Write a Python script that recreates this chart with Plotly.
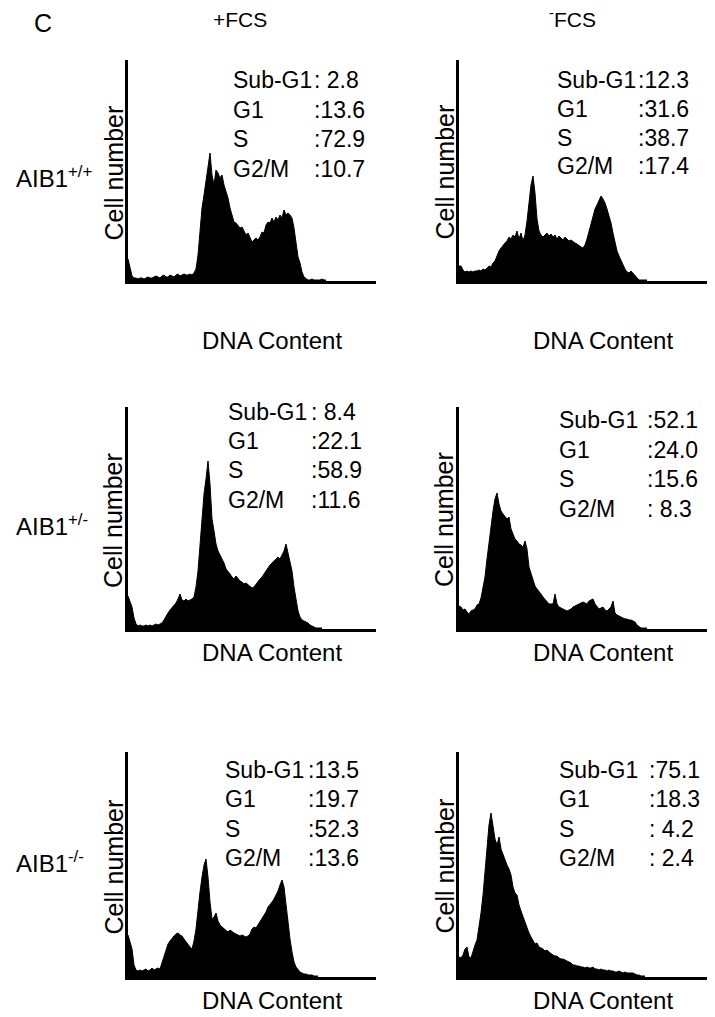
import plotly.graph_objects as go

W, H = 715, 1017
BIN = 2  # channels per histogram bin

# ---------------- data ----------------
CONDITIONS = ["+FCS", "-FCS"]
GENOTYPES = ["+/+", "+/-", "-/-"]
PHASES = ["Sub-G1", "G1", "S", "G2/M"]

# phase percentages
STATS_WT_PLUS = [2.8, 13.6, 72.9, 10.7]
STATS_WT_MINUS = [12.3, 31.6, 38.7, 17.4]
STATS_HET_PLUS = [8.4, 22.1, 58.9, 11.6]
STATS_HET_MINUS = [52.1, 24.0, 15.6, 8.3]
STATS_KO_PLUS = [13.5, 19.7, 52.3, 13.6]
STATS_KO_MINUS = [75.1, 18.3, 4.2, 2.4]

# DNA-content histograms (cell number per 2-channel bin, arbitrary units)
HIST_WT_PLUS = [22, 12, 5, 3, 3, 2, 3, 3, 2, 3, 4, 3, 3, 4, 5, 4, 3, 5, 6, 4, 4, 6, 5, 4, 6, 7, 5, 6, 7, 6,
                6, 7, 6, 8, 12, 26, 53, 73, 86, 99, 116, 128, 106, 96, 111, 108, 103, 106, 96, 89, 83, 73,
                66, 59, 58, 56, 53, 54, 49, 46, 48, 43, 39, 41, 43, 41, 44, 49, 48, 56, 59, 58, 63, 59, 64,
                61, 66, 63, 71, 66, 68, 66, 63, 53, 36, 24, 18, 9, 4, 2, 1, 1, 2, 1, 1, 1, 1, 2, 1, 1]
HIST_WT_MINUS = [15, 15, 11, 9, 10, 9, 10, 9, 10, 10, 11, 10, 12, 11, 13, 15, 14, 18, 20, 26, 30, 33, 36, 38,
                 40, 44, 42, 46, 44, 50, 42, 48, 40, 46, 60, 80, 96, 105, 88, 62, 50, 46, 44, 46, 48, 45, 47,
                 44, 46, 42, 45, 43, 41, 44, 42, 40, 41, 39, 38, 37, 35, 34, 33, 36, 42, 50, 58, 66, 72, 76,
                 80, 85, 82, 78, 72, 66, 58, 48, 38, 30, 25, 20, 16, 12, 9, 8, 10, 8, 6, 3, 1, 1, 1, 1, 1]
HIST_HET_PLUS = [33, 28, 22, 11, 5, 3, 4, 3, 3, 4, 3, 4, 3, 4, 5, 4, 5, 6, 9, 13, 16, 19, 21, 24, 26, 30, 35,
                 29, 28, 30, 28, 29, 30, 32, 42, 58, 85, 112, 135, 150, 168, 145, 110, 98, 85, 78, 74, 70, 66,
                 60, 58, 55, 52, 50, 53, 50, 48, 47, 45, 46, 44, 43, 41, 42, 45, 47, 50, 52, 55, 58, 62, 64,
                 66, 68, 70, 72, 70, 74, 78, 85, 75, 68, 58, 42, 28, 18, 12, 9, 8, 7, 6, 4, 3, 2, 1, 1, 1, 1]
HIST_HET_MINUS = [23, 22, 19, 20, 17, 15, 18, 19, 20, 24, 25, 31, 40, 52, 70, 88, 105, 118, 130, 136, 125, 118,
                  115, 112, 110, 112, 100, 95, 90, 88, 85, 84, 82, 88, 80, 62, 55, 48, 43, 40, 38, 35, 32, 30,
                  28, 25, 25, 25, 35, 25, 22, 21, 20, 19, 18, 19, 20, 22, 23, 24, 25, 26, 27, 26, 25, 28, 29,
                  30, 25, 23, 20, 21, 22, 19, 18, 20, 22, 28, 16, 14, 13, 12, 11, 10, 10, 9, 9, 8, 7, 4, 2, 1,
                  1, 1, 1]
HIST_KO_PLUS = [42, 36, 28, 12, 7, 6, 7, 6, 7, 8, 6, 7, 9, 7, 8, 9, 8, 14, 22, 28, 33, 36, 39, 41, 43, 44, 42,
                41, 38, 35, 32, 30, 28, 36, 48, 68, 85, 100, 112, 118, 100, 75, 58, 60, 64, 56, 52, 50, 48,
                46, 45, 47, 45, 44, 43, 42, 41, 42, 41, 40, 41, 43, 48, 50, 49, 52, 55, 58, 62, 65, 70, 72,
                75, 78, 82, 86, 92, 97, 90, 72, 55, 38, 25, 15, 10, 7, 5, 4, 3, 3, 2, 2, 2, 1, 1, 1]
HIST_KO_MINUS = [20, 19, 22, 28, 30, 20, 19, 26, 32, 37, 50, 64, 82, 108, 128, 152, 164, 148, 138, 132, 140,
                 128, 122, 118, 112, 108, 102, 90, 84, 82, 72, 66, 60, 54, 50, 44, 40, 36, 33, 34, 30, 29, 28,
                 26, 27, 25, 23, 22, 21, 21, 19, 18, 18, 17, 16, 15, 14, 12, 12, 11, 11, 10, 10, 9, 10, 9, 9,
                 10, 8, 8, 7, 8, 7, 7, 6, 7, 6, 6, 5, 5, 6, 5, 4, 5, 4, 4, 4, 4, 3, 2, 2, 1, 1, 1]

# ---------------- layout geometry (pixels) ----------------
FONT = "Liberation Sans, Arial, Helvetica, sans-serif"
COL_X = [(128, 376), (459, 707)]
ROW_Y = [(60, 281), (407, 629), (752, 977)]
X_CHANNELS = 248

panels = [
    # (row, col, hist, stats, label_x, colon_x, line_ys)
    (0, 0, HIST_WT_PLUS, STATS_WT_PLUS, 231, 312, [79.5, 109.5, 139, 169]),
    (0, 1, HIST_WT_MINUS, STATS_WT_MINUS, 555, 636, [79.5, 108.5, 137.5, 166]),
    (1, 0, HIST_HET_PLUS, STATS_HET_PLUS, 226, 309, [412, 440.5, 470, 500]),
    (1, 1, HIST_HET_MINUS, STATS_HET_MINUS, 557, 645, [420, 450, 479, 509]),
    (2, 0, HIST_KO_PLUS, STATS_KO_PLUS, 223, 306, [770, 799, 829, 858]),
    (2, 1, HIST_KO_MINUS, STATS_KO_MINUS, 557, 647, [770, 799, 829, 858]),
]


def px(x):
    return x / W


def py(y):
    return 1 - y / H


fig = go.Figure()
annotations = []
layout_axes = {}

for i, (r, c, hist, stats, lx, cx, ys) in enumerate(panels):
    n = i + 1
    xa = "x" if n == 1 else f"x{n}"
    ya = "y" if n == 1 else f"y{n}"
    xkey = "xaxis" if n == 1 else f"xaxis{n}"
    ykey = "yaxis" if n == 1 else f"yaxis{n}"
    x0, x1 = COL_X[c]
    top, bot = ROW_Y[r]
    channels = [k * BIN for k in range(len(hist))]
    fig.add_trace(go.Scatter(
        x=channels, y=hist, xaxis=xa, yaxis=ya, mode="lines",
        line=dict(color="black", width=1), fill="tozeroy", fillcolor="black",
        hoverinfo="skip", showlegend=False))
    layout_axes[xkey] = dict(domain=[px(x0), px(x1)], range=[0, X_CHANNELS], anchor=ya,
                             showline=True, linecolor="black", linewidth=3, showgrid=False,
                             zeroline=False, showticklabels=False, ticks="", fixedrange=True)
    layout_axes[ykey] = dict(domain=[py(bot), py(top)], range=[0, bot - top], anchor=xa,
                             showline=True, linecolor="black", linewidth=3, showgrid=False,
                             zeroline=False, showticklabels=False, ticks="", fixedrange=True)
    # stats text
    for j, (ph, v) in enumerate(zip(PHASES, stats)):
        annotations.append(dict(x=px(lx), y=py(ys[j]), xref="paper", yref="paper", text=ph,
                                showarrow=False, xanchor="left", yanchor="middle",
                                font=dict(family=FONT, size=23, color="black")))
        val = f"{v:4.1f}".replace(" ", "\u00a0")
        annotations.append(dict(x=px(cx), y=py(ys[j]), xref="paper", yref="paper", text=":" + val,
                                showarrow=False, xanchor="left", yanchor="middle",
                                font=dict(family=FONT, size=23, color="black")))
    # axis titles
    annotations.append(dict(x=px(x0 - 15), y=py((top + bot) / 2 + 2), xref="paper", yref="paper",
                            text="Cell number", textangle=-90, showarrow=False,
                            xanchor="center", yanchor="middle",
                            font=dict(family=FONT, size=25, color="black")))
    dna_y = 340 if r == 0 else bot + 23
    annotations.append(dict(x=px(x0 + 144), y=py(dna_y), xref="paper", yref="paper",
                            text="DNA Content", showarrow=False, xanchor="center", yanchor="middle",
                            font=dict(family=FONT, size=24, color="black")))

# column titles
annotations.append(dict(x=px(240), y=py(20), xref="paper", yref="paper", text="+FCS",
                        showarrow=False, xanchor="center", yanchor="middle",
                        font=dict(family=FONT, size=21, color="black")))
annotations.append(dict(x=px(572), y=py(18), xref="paper", yref="paper", text="<sup>-</sup>FCS",
                        showarrow=False, xanchor="center", yanchor="middle",
                        font=dict(family=FONT, size=21, color="black")))
# panel letter
annotations.append(dict(x=px(32), y=py(23), xref="paper", yref="paper", text="C",
                        showarrow=False, xanchor="left", yanchor="middle",
                        font=dict(family=FONT, size=25, color="black")))
# row labels
for g, yc in zip(GENOTYPES, [177, 525, 862]):
    annotations.append(dict(x=px(14), y=py(yc), xref="paper", yref="paper",
                            text=f"AIB1<sup>{g}</sup>", showarrow=False,
                            xanchor="left", yanchor="middle",
                            font=dict(family=FONT, size=24, color="black")))

fig.update_layout(width=W, height=H, margin=dict(l=0, r=0, t=0, b=0),
                  paper_bgcolor="white", plot_bgcolor="white",
                  annotations=annotations, showlegend=False, **layout_axes)

fig.write_html("out.html", config={"displayModeBar": False})
